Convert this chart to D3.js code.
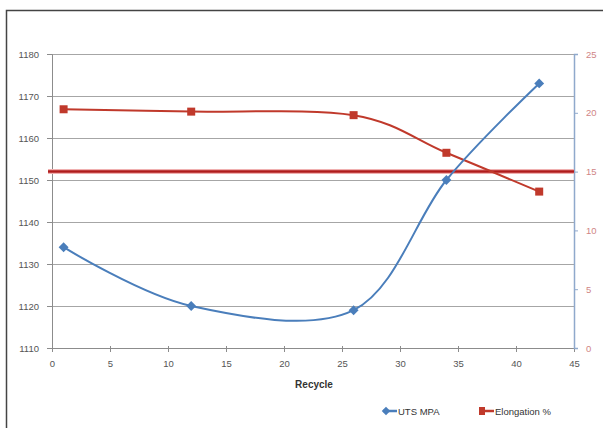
<!DOCTYPE html>
<html><head><meta charset="utf-8">
<script src="https://cdn.jsdelivr.net/npm/d3@7"></script>
<style>
body{margin:0;background:#fff;}
text{font-family:"Liberation Sans Narrow","Liberation Sans",Arial,sans-serif;}
</style></head>
<body><svg id="c" width="603" height="428"></svg>
<script>
const recycle = [1, 12, 26, 34, 42];
const utsMPA = [1134, 1120, 1119, 1150, 1173];
const elongation = [20.3, 20.1, 19.8, 16.6, 13.3];
const refElongation = 15;
const xTicks = [0,5,10,15,20,25,30,35,40,45];
const yLeftTicks = [1110,1120,1130,1140,1150,1160,1170,1180];
const yRightTicks = [0,5,10,15,20,25];
const seriesNames = ["UTS MPA", "Elongation %"];

const svg = d3.select("#c");
const L = 52, R = 574, T = 54, B = 348;
const x = d3.scaleLinear().domain([0,45]).range([L,R]);
const yL = d3.scaleLinear().domain([1110,1180]).range([B,T]);
const yR = d3.scaleLinear().domain([0,25]).range([B,T]);
const fmt = d3.format("d");

// frame
svg.append("path").attr("d","M6.5,428 L6.5,10.5 L603,10.5").attr("fill","none").attr("stroke","#444").attr("stroke-width",1.5);

// gridlines
svg.append("g").selectAll("line").data(yLeftTicks.slice(1)).join("line")
  .attr("x1",L).attr("x2",R).attr("y1",d=>Math.round(yL(d))+0.5).attr("y2",d=>Math.round(yL(d))+0.5)
  .attr("stroke","#a6a6a6").attr("stroke-width",1);

// axes
const gL = svg.append("g").attr("transform",`translate(${L},0)`)
  .call(d3.axisLeft(yL).tickValues(yLeftTicks).tickFormat(fmt).tickSize(5).tickPadding(8));
gL.select(".domain").attr("stroke","#8c8c8c");
gL.selectAll(".tick line").attr("stroke","#8c8c8c");
gL.selectAll("text").attr("fill","#555").attr("font-size",9.5);

const gX = svg.append("g").attr("transform",`translate(0,${B})`)
  .call(d3.axisBottom(x).tickValues(xTicks).tickFormat(fmt).tickSize(4).tickPadding(8));
gX.select(".domain").attr("stroke","#8c8c8c");
gX.selectAll(".tick line").attr("stroke","#8c8c8c").attr("y1",-2);
gX.selectAll("text").attr("fill","#555").attr("font-size",9.5);

const gR = svg.append("g").attr("transform",`translate(${R},0)`)
  .call(d3.axisRight(yR).tickValues(yRightTicks).tickFormat(fmt).tickSize(4).tickPadding(8));
gR.select(".domain").attr("stroke","#8fa9cc").attr("stroke-width",1.5);
gR.selectAll(".tick line").attr("stroke","#8fa9cc");
gR.selectAll("text").attr("fill","#d08585").attr("font-size",9.5);

svg.append("text").attr("x",314).attr("y",388).attr("text-anchor","middle")
  .attr("font-size",10).attr("font-weight","bold").attr("fill","#333").text("Recycle");

// reference line
svg.append("line").attr("x1",48).attr("x2",R).attr("y1",yR(refElongation)).attr("y2",yR(refElongation))
  .attr("stroke","#f0b0b0").attr("stroke-width",5);
svg.append("line").attr("x1",48).attr("x2",R).attr("y1",yR(refElongation)).attr("y2",yR(refElongation))
  .attr("stroke","#b01c1c").attr("stroke-width",2.5);

const curve = d3.curveCatmullRom.alpha(0);
const blue = "#4a7ebb", red = "#c0392b";

const utsData = recycle.map((r,i)=>[r,utsMPA[i]]);
const elData = recycle.map((r,i)=>[r,elongation[i]]);

svg.append("path").datum(elData).attr("fill","none").attr("stroke",red).attr("stroke-width",2)
  .attr("d",d3.line().x(d=>x(d[0])).y(d=>yR(d[1])).curve(curve));
svg.append("g").selectAll("rect").data(elData).join("rect")
  .attr("x",d=>x(d[0])-4).attr("y",d=>yR(d[1])-4).attr("width",8).attr("height",8).attr("fill",red);

svg.append("path").datum(utsData).attr("fill","none").attr("stroke",blue).attr("stroke-width",2)
  .attr("d",d3.line().x(d=>x(d[0])).y(d=>yL(d[1])).curve(curve));
svg.append("g").selectAll("rect.m").data(utsData).join("rect").attr("class","m")
  .attr("x",-3.5).attr("y",-3.5).attr("width",7).attr("height",7)
  .attr("transform",d=>`translate(${x(d[0])},${yL(d[1])}) rotate(45)`).attr("fill",blue);

// legend
const lg = svg.append("g");
const items = [{n:seriesNames[0],c:blue,x:383,sym:"d"},{n:seriesNames[1],c:red,x:480,sym:"s"}];
items.forEach(it=>{
  lg.append("line").attr("x1",it.x).attr("x2",it.x+14).attr("y1",411).attr("y2",411).attr("stroke",it.c).attr("stroke-width",2.5);
  if(it.sym==="d") lg.append("rect").attr("x",-3).attr("y",-3).attr("width",6).attr("height",6)
    .attr("transform",`translate(${it.x+3},411) rotate(45)`).attr("fill",it.c);
  else lg.append("rect").attr("x",it.x-1).attr("y",407).attr("width",6).attr("height",8).attr("fill",it.c);
  lg.append("text").attr("x",it.x+15).attr("y",414.5).attr("font-size",9.5).attr("fill","#333").text(it.n);
});
</script></body></html>
